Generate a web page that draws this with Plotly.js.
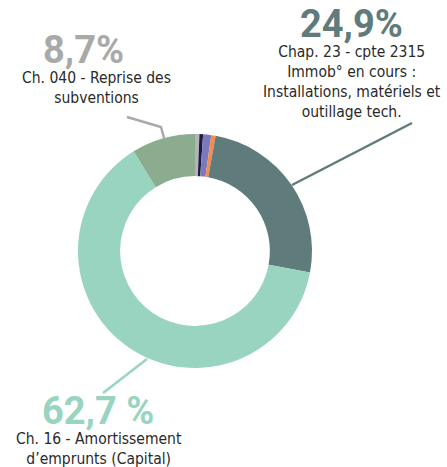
<!DOCTYPE html>
<html><head><meta charset="utf-8">
<script src="https://cdn.plot.ly/plotly-3.0.1.min.js"></script>
<style>html,body{margin:0;padding:0;background:#fff}</style>
</head><body>
<div id="chart" style="width:447px;height:467px"></div>
<script>
const labels = ['Autre 1', 'Autre 2', 'Autre 3', 'Autre 4',
  'Chap. 23 - cpte 2315 Immob° en cours : Installations, matériels et outillage tech.',
  'Ch. 16 - Amortissement d’emprunts (Capital)',
  'Ch. 040 - Reprise des subventions'];
const values = [0.6, 0.5, 1.1, 0.6, 24.9, 62.7, 8.7];
const colors = ['#b4b4b8', '#1d1a44', '#7b78bb', '#f28c4f', '#5f7b7b', '#99d4c0', '#8bac8f'];

const W = 447, H = 467;
const px = x => x / W;
const py = y => 1 - y / H;
const cx = 195, cy = 251, R = 117;

const bodyFont = {family: 'Liberation Sans Narrow, DejaVu Sans Condensed, Roboto, sans-serif', size: 15.5, color: '#2a2a2a'};
const bigFont = (c) => ({family: 'Roboto, DejaVu Sans, sans-serif', size: 38, color: c, weight: 700});

const data = [{
  type: 'pie', labels: labels, values: values, hole: 0.64, sort: false,
  direction: 'clockwise', rotation: 0,
  marker: {colors: colors, line: {width: 0}},
  textinfo: 'none', hoverinfo: 'label+percent',
  domain: {x: [px(cx - R), px(cx + R)], y: [py(cy + R), py(cy - R)]}
}];

const ann = (x, y, text, font) => ({x: px(x), y: py(y), xref: 'paper', yref: 'paper',
  text: text, showarrow: false, xanchor: 'center', yanchor: 'middle', font: font, align: 'center'});

const layout = {
  width: W, height: H, margin: {l: 0, r: 0, t: 0, b: 0},
  paper_bgcolor: '#fff', showlegend: false,
  annotations: [
    ann(83, 50, '<b>8,7%</b>', bigFont('#a8aaa9')),
    ann(96, 88, 'Ch. 040 - Reprise des<br>subventions', bodyFont),
    ann(351, 24, '<b>24,9%</b>', bigFont('#5f7b7b')),
    ann(352, 82, 'Chap. 23 - cpte 2315<br>Immob° en cours :<br>Installations, matériels et<br>outillage tech.', bodyFont),
    ann(98, 411, '<b>62,7 %</b>', bigFont('#99d4c0')),
    ann(99, 449, 'Ch. 16 - Amortissement<br>d’emprunts (Capital)', bodyFont)
  ],
  shapes: [
    {type: 'path', xref: 'paper', yref: 'paper', line: {color: '#a8aaa9', width: 2.5},
     path: `M ${px(127)} ${py(117)} L ${px(161)} ${py(127)} L ${px(164)} ${py(138)}`},
    {type: 'line', xref: 'paper', yref: 'paper', line: {color: '#5f7b7b', width: 2.5},
     x0: px(292), y0: py(185), x1: px(412), y1: py(123)},
    {type: 'line', xref: 'paper', yref: 'paper', line: {color: '#99d4c0', width: 2.5},
     x0: px(147), y0: py(359), x1: px(103), y1: py(393)}
  ]
};
Plotly.newPlot('chart', data, layout, {displayModeBar: false, staticPlot: true});
</script>
</body></html>
